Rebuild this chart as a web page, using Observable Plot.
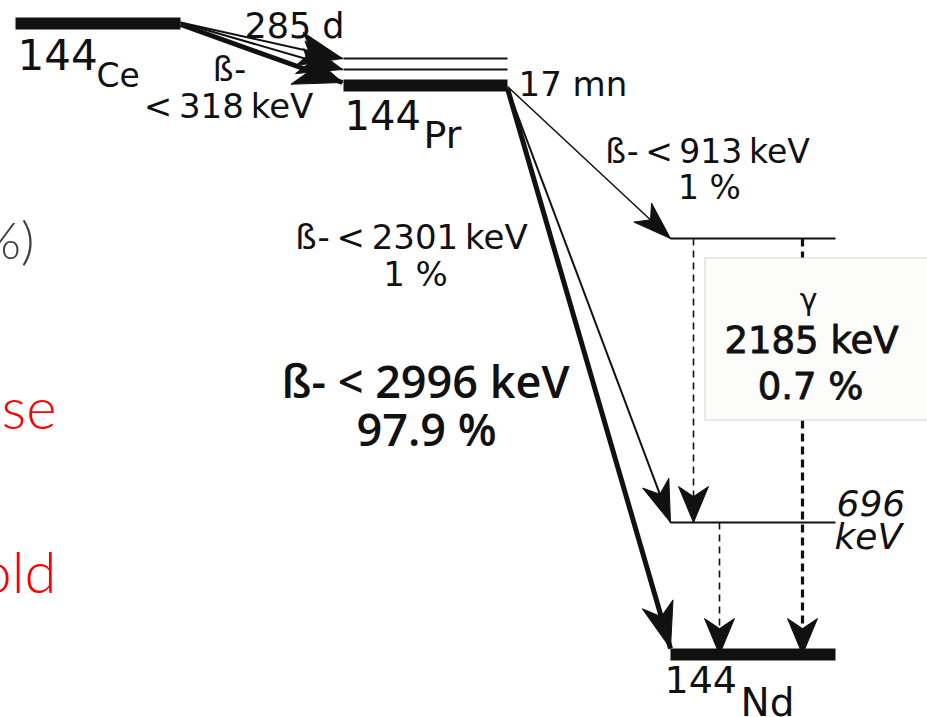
<!DOCTYPE html>
<html><head><meta charset="utf-8">
<script src="https://cdn.jsdelivr.net/npm/d3@7"></script>
<script src="https://cdn.jsdelivr.net/npm/@observablehq/plot@0.6"></script>
<style>
html,body{margin:0;padding:0;background:#fff;}
#chart{position:relative;width:927px;height:717px;overflow:hidden;}
</style></head><body><div id="chart"></div>
<script>
// ---------------- data ----------------
// nuclear levels of the 144Ce -> 144Pr -> 144Nd decay chain
const levelIds    = ["Ce144", "Pr144_80", "Pr144_59", "Pr144", "Nd144_2185", "Nd144_696", "Nd144"];
const levelKind   = ["ground", "excited", "excited", "ground", "excited", "excited", "ground"];
const halfLives   = ["285 d", "", "", "17 mn", "", "", ""];
// beta transitions
const betaFrom    = ["Ce144", "Ce144", "Ce144", "Pr144", "Pr144", "Pr144"];
const betaTo      = ["Pr144_80", "Pr144_59", "Pr144", "Nd144_2185", "Nd144_696", "Nd144"];
const betaEmax    = [318, 318, 318, 913, 2301, 2996];   // keV
const betaBranch  = [null, null, null, 1, 1, 97.9];      // %
// gamma transitions
const gammaFrom   = ["Nd144_2185", "Nd144_2185", "Nd144_696"];
const gammaTo     = ["Nd144_696", "Nd144", "Nd144"];
const gammaEnergy = [1489, 2185, 696];                   // keV
const gammaBranch = [null, 0.7, null];                   // %

// ---------------- layout (diagram coordinates) ----------------
const levelLeft  = [15, 343, 343, 343, 670, 670, 670];
const levelRight = [180, 507, 507, 507, 835, 835, 835];
const levelRow   = [23, 58, 69, 85, 238, 522, 654];
const betaStartY = [22, 22, 24, 86, 88, 88];
const betaTipX   = [342, 342, 342, 670, 670, 670];
const betaTipDY  = [0, 0, -3, 0, 0, -6];
const betaWidth  = [2, 2, 5, 1.5, 2, 5];
const betaHeadL  = [44, 44, 48, 38, 42, 46];
const betaHeadW  = [17, 17, 19, 13, 14, 16];
const gammaCol   = [693, 802, 719];
const gammaWidth = [1.6, 3.2, 1.6];
const gammaDash  = ["7,5", "8,5", "7,5"];

// ---------------- build tables ----------------
const idx = id => levelIds.indexOf(id);
const levels = levelIds.map((id, i) => ({
  id, x1: levelLeft[i], x2: levelRight[i], y: levelRow[i],
  w: levelKind[i] === "ground" ? 12 : 2
}));

const betas = betaFrom.map((f, i) => {
  const a = idx(f), b = idx(betaTo[i]);
  return {
    x1: levelRight[a], y1: betaStartY[i],
    x2: betaTipX[i], y2: levelRow[b] + betaTipDY[i],
    w: betaWidth[i], L: betaHeadL[i], H: betaHeadW[i]
  };
});
const gammas = gammaFrom.map((f, i) => {
  const a = idx(f), b = idx(gammaTo[i]);
  return {x1: gammaCol[i], y1: levelRow[a], x2: gammaCol[i], y2: levelRow[b],
          w: gammaWidth[i], dash: gammaDash[i], L: 36, H: 15};
});

// arrowhead polygons (concave), computed from the line end points
function head(t, k) {
  const dx = t.x2 - t.x1, dy = t.y2 - t.y1, len = Math.hypot(dx, dy);
  const ux = dx / len, uy = dy / len, nx = -uy, ny = ux;
  const bx = t.x2 - t.L * ux, by = t.y2 - t.L * uy;
  const notch = t.L * 0.72;
  const pts = [
    [t.x2, t.y2],
    [bx + t.H * nx, by + t.H * ny],
    [t.x2 - notch * ux, t.y2 - notch * uy],
    [bx - t.H * nx, by - t.H * ny],
    [t.x2, t.y2]
  ];
  return pts.map(([x, y]) => ({x, y, k}));
}
const heads = [...betas.map((t, i) => head(t, "b" + i)), ...gammas.map((t, i) => head(t, "g" + i))].flat();

// ---------------- labels ----------------
const thin = "\u2009";
// g: style group (r = regular, s = semibold, b = medium, i = italic); a: anchor
const labels = [
  {t: "144", x: 17, y: 69, s: 42, a: "start", g: "r"},
  {t: "Ce", x: 96, y: 86, s: 33, a: "start", g: "r"},
  {t: halfLives[0], x: 294, y: 37, s: 35, a: "middle", g: "r"},
  {t: "ß-", x: 229, y: 80, s: 33, a: "middle", g: "r"},
  {t: "<" + thin + betaEmax[0] + thin + "keV", x: 228, y: 117, s: 34, a: "middle", g: "r"},
  {t: halfLives[3], x: 518, y: 95, s: 34, a: "start", g: "r"},
  {t: "144", x: 344, y: 129, s: 40, a: "start", g: "r"},
  {t: "Pr", x: 423, y: 147, s: 38, a: "start", g: "r"},
  {t: "ß-" + thin + "<" + thin + betaEmax[3] + thin + "keV", x: 707, y: 162, s: 33, a: "middle", g: "r"},
  {t: betaBranch[3] + " %", x: 709, y: 198, s: 33, a: "middle", g: "r"},
  {t: "ß-" + thin + "<" + thin + betaEmax[4] + thin + "keV", x: 411, y: 248, s: 34, a: "middle", g: "r"},
  {t: betaBranch[4] + " %", x: 415, y: 285, s: 34, a: "middle", g: "r"},
  {t: "ß- < " + betaEmax[5] + " keV", x: 425, y: 397, s: 45, a: "middle", g: "s"},
  {t: betaBranch[5] + " %", x: 426, y: 445, s: 45, a: "middle", g: "s"},
  {t: "γ", x: 808, y: 309, s: 30, a: "middle", g: "r"},
  {t: gammaEnergy[1] + " keV", x: 811, y: 352, s: 37, a: "middle", g: "b"},
  {t: gammaBranch[1] + " %", x: 810, y: 398, s: 37, a: "middle", g: "b"},
  {t: gammaEnergy[2], x: 836, y: 515, s: 36, a: "start", g: "i"},
  {t: "keV", x: 834, y: 548, s: 36, a: "start", g: "i"},
  {t: "144", x: 664, y: 692, s: 38, a: "start", g: "r"},
  {t: "Nd", x: 740, y: 715, s: 39, a: "start", g: "r"}
];
const fragments = [
  {t: "(98%)", x: 34, y: 258, s: 52, c: "#404040"},
  {t: "because", x: 56, y: 428, s: 58, c: "#ff0000"},
  {t: "threshold", x: 56, y: 592, s: 58, c: "#ff0000"}
];
const box = [{x1: 705, x2: 940, y1: 258, y2: 420}];

const styles = {
  r: {fontFamily: "DejaVu Sans"},
  s: {fontFamily: "Open Sans", fontWeight: 600},
  b: {fontFamily: "DejaVu Sans", stroke: "#111", strokeWidth: 0.9},
  i: {fontFamily: "DejaVu Sans", fontStyle: "italic"}
};
const textMarks = [];
for (const g of Object.keys(styles)) {
  for (const a of ["start", "middle"]) {
    const sub = labels.filter(d => d.g === g && d.a === a);
    if (sub.length) textMarks.push(Plot.text(sub, {
      x: "x", y: "y", text: "t", fontSize: "s", textAnchor: a, lineAnchor: "bottom",
      fill: "#111", ...styles[g]
    }));
  }
}

const W = 927, H = 717;
const plot = Plot.plot({
  width: W, height: H, margin: 0,
  x: {domain: [0, W], range: [0, W], axis: null},
  y: {domain: [0, H], range: [0, H], axis: null},
  style: {fontFamily: "'DejaVu Sans', sans-serif", background: "white", color: "black"},
  marks: [
    Plot.text(fragments, {x: "x", y: "y", text: "t", fontSize: "s", fill: "c", textAnchor: "end", lineAnchor: "bottom", fontFamily: "Lato", fontWeight: 300}),
    Plot.link(levels, {x1: "x1", x2: "x2", y1: "y", y2: "y", strokeWidth: "w", stroke: "#111"}),
    Plot.link(betas, {x1: "x1", y1: "y1", x2: "x2", y2: "y2", strokeWidth: "w", stroke: "#111"}),
    ...gammas.map(g => Plot.link([g], {x1: "x1", y1: "y1", x2: "x2", y2: "y2", strokeWidth: g.w, strokeDasharray: g.dash, stroke: "#111"})),
    Plot.line(heads, {x: "x", y: "y", z: "k", fill: "#111", stroke: "#111", strokeWidth: 1, curve: "linear"}),
    Plot.rect(box, {x1: "x1", x2: "x2", y1: "y1", y2: "y2", fill: "#fcfcfa", stroke: "#d4d4d4", strokeWidth: 1}),
    ...textMarks
  ]
});
document.getElementById("chart").appendChild(plot);
</script>
</body></html>
